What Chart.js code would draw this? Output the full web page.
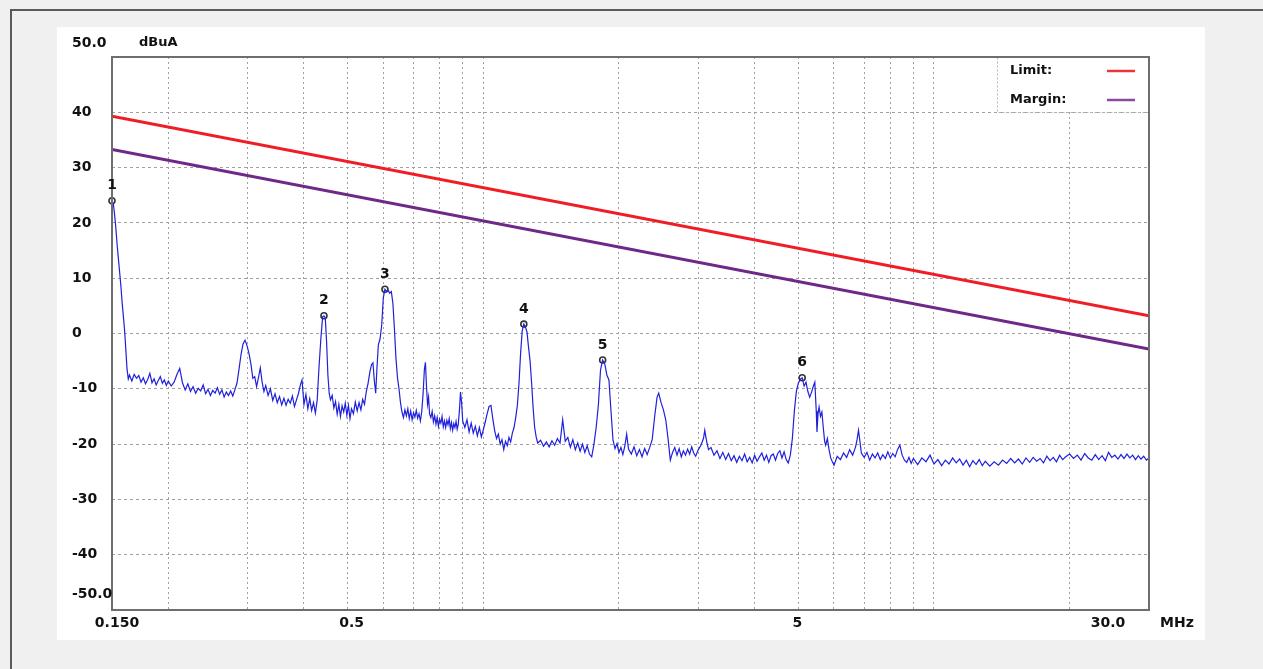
<!DOCTYPE html>
<html>
<head>
<meta charset="utf-8">
<script src="https://cdn.jsdelivr.net/npm/chart.js@4.4.1/dist/chart.umd.min.js"></script>
<style>
  body { margin: 0; background: #f0f0f0; overflow: hidden; }
  #frameTop { position: absolute; left: 10px; top: 9px; width: 1253px; height: 2px; background: #5a5a5a; }
  #frameLeft { position: absolute; left: 10px; top: 9px; width: 2px; height: 660px; background: #5a5a5a; }
  #panel { position: absolute; left: 57px; top: 27px; width: 1148px; height: 613px; background: #fff; }
  #chart { position: absolute; left: 0; top: 0; }
</style>
</head>
<body>
<div id="frameTop"></div>
<div id="frameLeft"></div>
<div id="panel"></div>
<canvas id="chart" width="1263" height="669"></canvas>
<script>
// measured trace, frequency in MHz and level in dBuA
const traceFreq = [
  0.150, 0.151, 0.152, 0.153, 0.154, 0.155, 0.156, 0.157, 0.158, 0.159,
  0.160, 0.161, 0.162, 0.163, 0.164, 0.166, 0.168, 0.170, 0.172, 0.174,
  0.176, 0.178, 0.180, 0.182, 0.184, 0.186, 0.188, 0.190, 0.192, 0.194,
  0.196, 0.198, 0.200, 0.203, 0.206, 0.209, 0.212, 0.215, 0.218, 0.221,
  0.224, 0.227, 0.230, 0.233, 0.236, 0.239, 0.242, 0.245, 0.248, 0.251,
  0.254, 0.257, 0.260, 0.263, 0.266, 0.269, 0.272, 0.275, 0.278, 0.281,
  0.284, 0.287, 0.290, 0.293, 0.296, 0.299, 0.302, 0.305, 0.308, 0.311,
  0.314, 0.317, 0.320, 0.323, 0.326, 0.329, 0.333, 0.337, 0.341, 0.345,
  0.349, 0.353, 0.357, 0.361, 0.365, 0.369, 0.373, 0.377, 0.381, 0.385,
  0.389, 0.393, 0.396, 0.400, 0.404, 0.408, 0.412, 0.416, 0.420, 0.424,
  0.428, 0.432, 0.436, 0.440, 0.443, 0.446, 0.449, 0.452, 0.455, 0.458,
  0.462, 0.466, 0.470, 0.474, 0.478, 0.482, 0.486, 0.490, 0.494, 0.498,
  0.502, 0.506, 0.510, 0.515, 0.520, 0.525, 0.530, 0.535, 0.540, 0.545,
  0.550, 0.555, 0.560, 0.565, 0.569, 0.573, 0.577, 0.581, 0.585, 0.590,
  0.595, 0.600, 0.605, 0.610, 0.615, 0.620, 0.625, 0.630, 0.635, 0.640,
  0.645, 0.650, 0.655, 0.660, 0.665, 0.670, 0.675, 0.680, 0.685, 0.690,
  0.695, 0.700, 0.705, 0.710, 0.715, 0.720, 0.725, 0.730, 0.735, 0.740,
  0.744, 0.748, 0.752, 0.756, 0.760, 0.765, 0.770, 0.775, 0.780, 0.785,
  0.790, 0.795, 0.800, 0.805, 0.810, 0.815, 0.820, 0.825, 0.830, 0.835,
  0.840, 0.845, 0.850, 0.855, 0.860, 0.865, 0.870, 0.875, 0.880, 0.885,
  0.890, 0.895, 0.900, 0.910, 0.920, 0.930, 0.940, 0.950, 0.960, 0.970,
  0.980, 0.990, 1.00, 1.01, 1.02, 1.03, 1.04, 1.05, 1.06, 1.07,
  1.08, 1.09, 1.10, 1.11, 1.12, 1.13, 1.14, 1.15, 1.16, 1.17,
  1.18, 1.19, 1.20, 1.21, 1.22, 1.23, 1.24, 1.25, 1.26, 1.27,
  1.28, 1.29, 1.30, 1.31, 1.32, 1.34, 1.36, 1.38, 1.40, 1.42,
  1.44, 1.46, 1.48, 1.50, 1.52, 1.54, 1.56, 1.58, 1.60, 1.62,
  1.64, 1.66, 1.68, 1.70, 1.72, 1.74, 1.76, 1.78, 1.80, 1.82,
  1.84, 1.86, 1.88, 1.90, 1.92, 1.94, 1.96, 1.98, 2.00, 2.02,
  2.04, 2.06, 2.08, 2.10, 2.13, 2.16, 2.19, 2.22, 2.25, 2.28,
  2.31, 2.34, 2.37, 2.40, 2.43, 2.45, 2.48, 2.51, 2.54, 2.57,
  2.60, 2.63, 2.66, 2.69, 2.72, 2.75, 2.78, 2.81, 2.84, 2.87,
  2.90, 2.93, 2.96, 3.00, 3.04, 3.08, 3.10, 3.13, 3.16, 3.20,
  3.25, 3.30, 3.35, 3.40, 3.45, 3.50, 3.55, 3.60, 3.65, 3.70,
  3.75, 3.80, 3.85, 3.90, 3.95, 4.00, 4.05, 4.10, 4.15, 4.20,
  4.25, 4.30, 4.35, 4.40, 4.45, 4.50, 4.55, 4.60, 4.65, 4.70,
  4.75, 4.80, 4.85, 4.90, 4.95, 5.00, 5.05, 5.10, 5.15, 5.20,
  5.25, 5.30, 5.35, 5.40, 5.44, 5.48, 5.50, 5.53, 5.56, 5.60,
  5.64, 5.68, 5.72, 5.75, 5.80, 5.85, 5.90, 5.95, 6.00, 6.05,
  6.10, 6.20, 6.30, 6.40, 6.50, 6.60, 6.70, 6.75, 6.80, 6.85,
  6.90, 7.00, 7.10, 7.20, 7.30, 7.40, 7.50, 7.60, 7.70, 7.80,
  7.90, 8.00, 8.10, 8.20, 8.30, 8.40, 8.50, 8.60, 8.70, 8.80,
  8.90, 9.00, 9.20, 9.40, 9.60, 9.80, 10.0, 10.2, 10.4, 10.6,
  10.8, 11.0, 11.2, 11.4, 11.6, 11.8, 12.0, 12.2, 12.4, 12.6,
  12.8, 13.0, 13.3, 13.6, 13.9, 14.2, 14.5, 14.8, 15.1, 15.4,
  15.7, 16.0, 16.3, 16.6, 16.9, 17.2, 17.5, 17.8, 18.1, 18.4,
  18.7, 19.0, 19.3, 19.6, 20.0, 20.4, 20.8, 21.2, 21.6, 22.0,
  22.4, 22.8, 23.2, 23.6, 24.0, 24.4, 24.8, 25.2, 25.6, 26.0,
  26.4, 26.8, 27.2, 27.6, 28.0, 28.4, 28.8, 29.2, 29.6, 30.0
]
const traceLevel = [
  24.0, 23.5, 21.5, 19.0, 16.0, 13.5, 11.0, 8.5, 5.5, 3.0,
  0.5, -3.0, -6.5, -8.2, -7.5, -8.6, -7.4, -8.1, -7.6, -8.8,
  -8.0, -9.1, -8.3, -7.2, -8.9, -8.2, -9.3, -8.5, -7.8, -9.0,
  -8.4, -9.4, -8.6, -9.5, -8.8, -7.4, -6.3, -8.9, -10.2, -9.1,
  -10.5, -9.6, -10.8, -9.9, -10.4, -9.3, -10.9, -10.1, -11.2, -10.3,
  -10.8, -9.8, -11.0, -10.2, -11.5, -10.6, -11.2, -10.4, -11.3, -10.2,
  -9.0, -6.5, -3.8, -1.9, -1.2, -2.2, -3.6, -5.5, -8.1, -7.8,
  -9.6, -8.0, -6.2, -8.8, -10.5, -9.4, -11.2, -10.0, -12.1, -10.9,
  -12.5, -11.4, -12.9, -11.7, -13.0, -11.9, -12.6, -11.3, -13.2, -12.0,
  -10.8, -9.2, -8.4, -12.8, -11.0, -13.6, -11.8, -13.9, -12.5, -14.4,
  -12.0, -6.0, -1.0, 3.0, 3.2, 2.8, -1.5, -7.5, -10.8, -12.0,
  -11.2, -13.5, -12.3, -14.6, -12.8, -15.0, -13.1, -14.2, -12.6, -14.8,
  -13.0, -15.4, -13.6, -14.5, -12.4, -14.0, -12.5, -13.8, -11.9, -12.8,
  -10.5, -9.0, -7.0, -5.6, -5.3, -8.5, -10.8, -6.0, -2.0, -1.0,
  1.5, 6.5, 8.0, 7.6, 7.8, 7.3, 7.6, 5.5, 0.8, -4.5,
  -8.0, -10.0, -12.5, -14.2, -15.2, -13.8, -14.9, -13.6, -15.4, -14.0,
  -15.6, -14.3, -15.1, -13.9, -15.3, -14.5, -15.8, -14.2, -11.0, -6.5,
  -5.2, -9.5, -12.8, -11.5, -14.6, -15.2, -14.1, -16.0, -14.9, -16.4,
  -15.2, -16.8, -15.5, -16.2, -15.0, -16.9, -15.8, -17.0, -15.7, -16.5,
  -15.4, -17.2, -16.1, -17.5, -16.3, -17.0, -15.9, -17.3, -16.4, -14.0,
  -10.6, -12.5, -15.8, -17.0, -15.6, -17.8, -16.2, -18.0, -16.8, -18.5,
  -17.0, -18.7, -17.4, -16.0, -14.5, -13.2, -13.0, -15.5, -17.6, -19.0,
  -18.2, -20.0, -19.2, -21.0, -19.5, -20.3, -18.8, -19.6, -18.0, -17.0,
  -15.2, -13.0, -9.0, -3.5, 0.5, 1.7, 1.2, 0.3, -2.5, -5.0,
  -9.0, -13.5, -17.0, -18.7, -19.8, -19.3, -20.4, -19.6, -20.5, -19.4,
  -20.2, -19.0, -19.8, -15.6, -19.5, -18.8, -20.6, -19.2, -21.0, -19.8,
  -21.3, -20.0, -21.5, -20.3, -21.8, -22.3, -20.0, -17.0, -13.0, -6.6,
  -4.8, -5.5, -7.5, -8.4, -14.0, -19.3, -20.8, -19.9, -21.5, -20.6,
  -21.9, -20.4, -18.2, -20.9, -21.8, -20.5, -22.1, -21.0, -22.3, -20.8,
  -21.9, -20.6, -19.2, -15.0, -11.5, -10.8, -12.5, -13.8, -15.6, -19.0,
  -22.9, -21.5, -20.6, -22.0, -20.8, -22.3, -21.2, -22.0, -20.9, -21.8,
  -20.5, -21.6, -22.2, -21.0, -20.2, -19.0, -17.5, -19.5, -21.0, -20.6,
  -22.0, -21.2, -22.6, -21.5, -22.8, -21.7, -23.0, -22.1, -23.3, -22.2,
  -23.0, -21.8, -23.2, -22.4, -23.4, -22.0, -23.1, -22.3, -21.6, -22.9,
  -22.0, -23.3, -22.1, -21.8, -22.9, -21.7, -21.2, -22.5, -21.4, -22.8,
  -23.4, -22.0, -19.0, -14.0, -10.5, -9.0, -8.3, -8.0, -9.5, -8.8,
  -10.5, -11.5, -10.6, -9.5, -8.8, -14.0, -17.8, -14.5, -13.3, -15.0,
  -14.2, -17.0, -19.5, -20.2, -19.0, -21.0, -22.5, -23.2, -23.8, -23.0,
  -22.2, -22.8, -21.6, -22.4, -21.0, -22.0, -20.5, -19.2, -17.5, -19.5,
  -21.6, -22.4, -21.5, -22.9, -21.8, -22.5, -21.6, -22.8, -21.9, -22.6,
  -21.4, -22.5, -21.7, -22.3, -21.0, -20.2, -22.0, -22.9, -23.3, -22.4,
  -23.5, -22.6, -23.7, -22.5, -23.2, -22.0, -23.6, -22.8, -23.9, -22.9,
  -23.6, -22.5, -23.4, -22.7, -23.8, -22.9, -24.1, -23.0, -23.7, -22.8,
  -23.9, -23.1, -24.0, -23.2, -23.8, -22.9, -23.5, -22.6, -23.4, -22.7,
  -23.6, -22.5, -23.3, -22.4, -23.1, -22.6, -23.4, -22.2, -23.0, -22.4,
  -23.2, -22.0, -22.8, -22.3, -21.8, -22.6, -22.0, -22.9, -21.7, -22.5,
  -22.9, -21.9, -22.8, -22.1, -23.0, -21.5, -22.4, -22.0, -22.7, -21.9,
  -22.6, -21.8, -22.5, -22.0, -22.8, -22.1, -22.7, -22.2, -22.9, -22.5
]

// limit and margin lines (straight in log f)
const limitFreq = [0.15, 30]
const limitLevel = [39.3, 3.2]
const marginLevel = [33.3, -2.8]

// peak markers
const markerLabels = ['1', '2', '3', '4', '5', '6']
const markerFreq = [0.150, 0.443, 0.605, 1.23, 1.84, 5.10]
const markerLevel = [24.0, 3.2, 8.0, 1.7, -4.8, -8.0]

// axes
const xGridMHz = [0.2, 0.3, 0.4, 0.5, 0.6, 0.7, 0.8, 0.9, 1, 2, 3, 4, 5, 6, 7, 8, 9, 10, 20]
const xLabelValues = [0.15, 0.5, 5, 30]
const xLabelTexts = ['0.150', '0.5', '5', '30.0']
const yGridValues = [40, 30, 20, 10, 0, -10, -20, -30, -40]
const yLabelValues = [50, 40, 30, 20, 10, 0, -10, -20, -30, -40, -50]
const yLabelTexts = ['50.0', '40', '30', '20', '10', '0', '-10', '-20', '-30', '-40', '-50.0']
const yUnit = 'dBuA'
const xUnit = 'MHz'

const FONT = 'bold 14px "DejaVu Sans", sans-serif'
const SMALL_FONT = 'bold 13px "DejaVu Sans", sans-serif'

const toPoints = (xs, ys) => xs.map((x, i) => ({ x: x, y: ys[i] }))

const emcPlugin = {
  id: 'emc',
  beforeDatasetsDraw(chart) {
    // legend box, covers the grid
    const ctx = chart.ctx, a = chart.chartArea
    ctx.save()
    ctx.fillStyle = '#fff'
    ctx.fillRect(a.right - 152, a.top, 152, 55)
    ctx.strokeStyle = '#b4b4b4'
    ctx.lineWidth = 1
    ctx.setLineDash([2, 2])
    ctx.strokeRect(a.right - 151.5, a.top + 0.5, 152, 55)
    ctx.restore()
  },
  afterDraw(chart) {
    const ctx = chart.ctx, a = chart.chartArea
    const xs = chart.scales.x, ys = chart.scales.y
    ctx.save()
    // plot frame
    ctx.strokeStyle = '#6e6e6e'
    ctx.lineWidth = 2
    ctx.strokeRect(a.left, a.top, a.right - a.left, a.bottom - a.top)

    ctx.fillStyle = '#111'
    ctx.font = FONT
    // y labels
    ctx.textAlign = 'left'
    ctx.textBaseline = 'middle'
    yLabelValues.forEach((v, i) => {
      let y = ys.getPixelForValue(v)
      if (i === 0) y -= 14
      if (i === yLabelValues.length - 1) y -= 16
      ctx.fillText(yLabelTexts[i], 72, y)
    })
    ctx.font = SMALL_FONT
    ctx.fillText(yUnit, 139, ys.getPixelForValue(50) - 14)
    ctx.font = FONT

    // x labels
    const xOff = [5, 4, -1, -41]
    ctx.textAlign = 'center'
    xLabelValues.forEach((v, i) => {
      ctx.fillText(xLabelTexts[i], xs.getPixelForValue(v) + xOff[i], a.bottom + 13)
    })
    ctx.textAlign = 'left'
    ctx.fillText(xUnit, a.right + 11, a.bottom + 13)

    // marker numbers
    ctx.textAlign = 'center'
    markerLabels.forEach((t, i) => {
      ctx.fillText(t, xs.getPixelForValue(markerFreq[i]), ys.getPixelForValue(markerLevel[i]) - 15)
    })

    // legend entries
    ctx.font = SMALL_FONT
    const lx = a.right - 139
    const lines = [chart.data.datasets[1], chart.data.datasets[2]]
    lines.forEach((ds, i) => {
      const y = a.top + 14 + i * 29
      ctx.fillStyle = '#111'
      ctx.textAlign = 'left'
      ctx.fillText(ds.label, lx, y)
      ctx.strokeStyle = i === 0 ? '#e8343a' : '#8a4aa0'
      ctx.lineWidth = 2.5
      ctx.beginPath()
      ctx.moveTo(a.right - 42, y)
      ctx.lineTo(a.right - 14, y)
      ctx.stroke()
    })
    ctx.restore()
  }
}

new Chart(document.getElementById('chart'), {
  type: 'line',
  data: {
    datasets: [
      {
        label: 'Trace',
        data: toPoints(traceFreq, traceLevel),
        borderColor: '#2020dc',
        borderWidth: 1.2,
        pointRadius: 0,
        tension: 0
      },
      {
        label: 'Limit:',
        data: toPoints(limitFreq, limitLevel),
        borderColor: '#f01e24',
        borderWidth: 3,
        pointRadius: 0
      },
      {
        label: 'Margin:',
        data: toPoints(limitFreq, marginLevel),
        borderColor: '#6e2888',
        borderWidth: 3,
        pointRadius: 0
      },
      {
        label: 'Markers',
        data: toPoints(markerFreq, markerLevel),
        showLine: false,
        pointRadius: 3,
        pointBorderWidth: 1.6,
        pointBorderColor: '#333',
        pointBackgroundColor: 'rgba(255,255,255,0.6)',
        clip: false
      }
    ]
  },
  options: {
    responsive: false,
    animation: false,
    layout: { padding: { left: 112, top: 57, right: 114, bottom: 59 } },
    plugins: { legend: { display: false }, tooltip: { enabled: false } },
    scales: {
      x: {
        type: 'logarithmic',
        min: 0.15,
        max: 30,
        afterBuildTicks: (s) => { s.ticks = xGridMHz.map(v => ({ value: v })) },
        afterFit: (s) => { s.height = 0 },
        ticks: { display: false },
        grid: { color: '#a0a0a0', lineWidth: 1, drawTicks: false },
        border: { display: false, dash: [2, 3] }
      },
      y: {
        type: 'linear',
        min: -50,
        max: 50,
        afterBuildTicks: (s) => { s.ticks = yGridValues.map(v => ({ value: v })) },
        afterFit: (s) => { s.width = 0 },
        ticks: { display: false },
        grid: { color: '#a0a0a0', lineWidth: 1, drawTicks: false },
        border: { display: false, dash: [3, 3] }
      }
    }
  },
  plugins: [emcPlugin]
})
</script>
</body>
</html>
